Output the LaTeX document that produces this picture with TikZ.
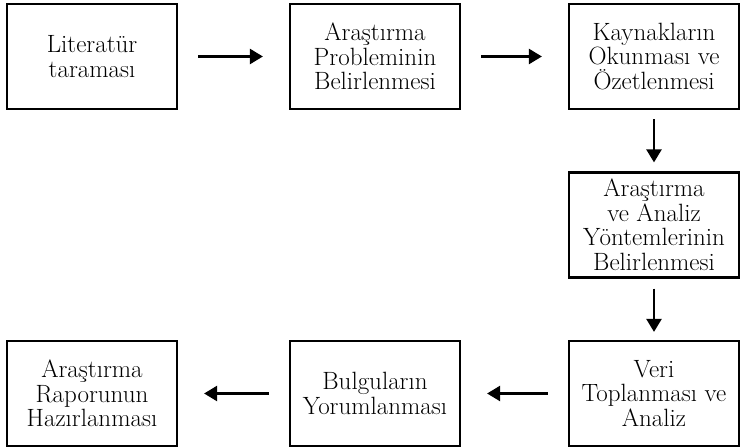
\documentclass[tikz,border=0pt]{standalone}
\usetikzlibrary{arrows.meta}

\tikzset{
  kutu/.style={draw, line width=2.2pt, minimum width=170pt, minimum height=105pt,
    align=center, inner sep=2pt, font=\fontsize{25}{24.5}\selectfont},
  ok/.style={-{Triangle[length=13pt,width=15pt]}, line width=2.4pt}
}

\begin{document}
\begin{tikzpicture}[x=1pt, y=1pt]
    \useasboundingbox (0,0) rectangle (740,447);

%ust sira
    \node[kutu] (lit) at (92,390.5) {Literatür\\taraması};
    \node[kutu] (problem) at (375,390.5) {Araştırma\\Probleminin\\Belirlenmesi};
    \node[kutu] (kaynak) at (654,390.5) {Kaynakların\\Okunması ve\\Özetlenmesi};

%orta
    \node[kutu] (yontem) at (654,222) {Araştırma\\ve Analiz\\Yöntemlerinin\\Belirlenmesi};

%alt sira
    \node[kutu] (veri) at (654,53.5) {Veri\\Toplanması ve\\Analiz};
    \node[kutu] (bulgu) at (375,53.5) {Bulguların\\Yorumlanması};
    \node[kutu] (rapor) at (92,53.5) {Araştırma\\Raporunun\\Hazırlanması};

%oklar
    \draw[ok, shorten <=20pt, shorten >=26pt] (lit) -- (problem);
    \draw[ok, shorten <=20pt, shorten >=26pt] (problem) -- (kaynak);
    \draw[ok, shorten <=9pt, shorten >=9pt] (kaynak) -- (yontem);
    \draw[ok, shorten <=10pt, shorten >=8pt] (yontem) -- (veri);
    \draw[ok, shorten <=20pt, shorten >=26pt] (veri) -- (bulgu);
    \draw[ok, shorten <=20pt, shorten >=26pt] (bulgu) -- (rapor);

\end{tikzpicture}
\end{document}
